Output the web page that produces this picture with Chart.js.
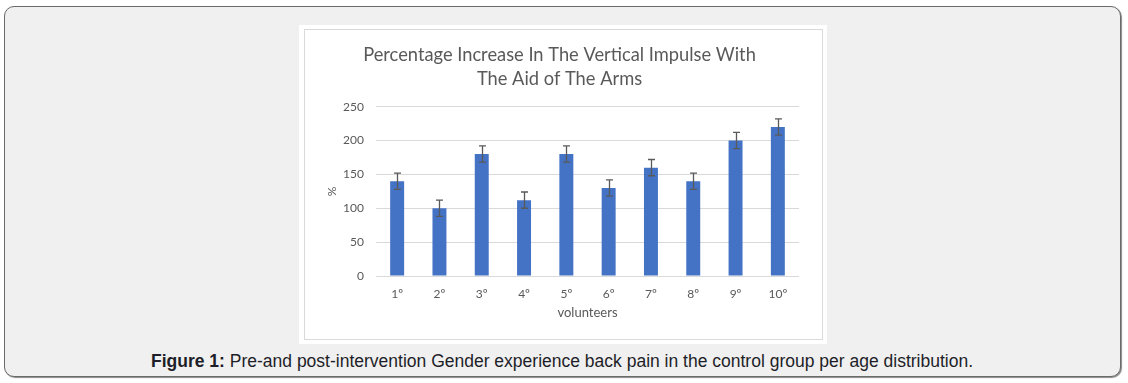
<!DOCTYPE html>
<html>
<head>
<meta charset="utf-8">
<script src="https://cdn.jsdelivr.net/npm/chart.js@4/dist/chart.umd.min.js"></script>
<style>
  html, body { margin: 0; padding: 0; background: #ffffff; width: 1128px; height: 383px; overflow: hidden; }
  #frame { position: absolute; left: 4px; top: 6px; width: 1115px; height: 369px; border: 1px solid #6a6a6a;
           border-radius: 10px; background: #f0f0f0; box-shadow: 1px 1px 1px #8a8a8a; }
  #white { position: absolute; left: 299px; top: 25px; width: 528px; height: 319px; background: #ffffff; }
  #box { position: absolute; left: 304px; top: 29px; width: 517px; height: 309px; border: 1px solid #d9d9d9; background: #ffffff; }
  #wrap { position: absolute; left: 305px; top: 30px; width: 517px; height: 309px; }
  #caption { position: absolute; left: 0; width: 1124px; top: 351px; line-height: 20px; text-align: center;
             font-family: "Liberation Sans", Arial, sans-serif; font-size: 17.5px; color: #1e1e28; }
  #caption b { font-weight: bold; }
</style>
</head>
<body>
<div id="frame"></div>
<div id="white"></div>
<div id="box"></div>
<div id="wrap"><canvas id="c" width="517" height="309"></canvas></div>
<div id="caption"><b>Figure 1:</b> Pre-and post-intervention Gender experience back pain in the control group per age distribution.</div>
<script>
const categories = ["1º", "2º", "3º", "4º", "5º", "6º", "7º", "8º", "9º", "10º"];
const values = [140, 100, 180, 112, 180, 130, 160, 140, 200, 220];
const errors = [12, 12, 12, 12, 12, 12, 12, 12, 12, 12];
const yTicks = [0, 50, 100, 150, 200, 250];
const titleLines = ["Percentage Increase In The Vertical Impulse With", "The Aid of The Arms"];

const errorBars = {
  id: 'errorBars',
  afterDatasetsDraw(chart) {
    const ctx = chart.ctx;
    const meta = chart.getDatasetMeta(0);
    const ys = chart.scales.y;
    ctx.save();
    ctx.strokeStyle = '#595959';
    ctx.lineWidth = 1.3;
    meta.data.forEach((bar, i) => {
      const x = Math.round(bar.x) + 0.5;
      const top = ys.getPixelForValue(values[i] + errors[i]);
      const bot = ys.getPixelForValue(values[i] - errors[i]);
      ctx.beginPath();
      ctx.moveTo(x, top); ctx.lineTo(x, bot);
      ctx.moveTo(x - 3.5, top); ctx.lineTo(x + 3.5, top);
      ctx.moveTo(x - 3.5, bot); ctx.lineTo(x + 3.5, bot);
      ctx.stroke();
    });
    ctx.restore();
  }
};

new Chart(document.getElementById('c'), {
  type: 'bar',
  data: {
    labels: categories,
    datasets: [{
      data: values,
      backgroundColor: '#4472C4',
      borderWidth: 0,
      barPercentage: 0.33,
      categoryPercentage: 1.0
    }]
  },
  options: {
    responsive: false,
    animation: false,
    devicePixelRatio: 1,
    layout: { padding: { left: 15, right: 23, top: 0, bottom: 0 } },
    plugins: {
      legend: { display: false },
      tooltip: { enabled: false },
      title: {
        display: true,
        text: titleLines,
        color: '#595959',
        font: { family: 'Lato', size: 18.3, weight: 'normal', lineHeight: 1.33 },
        padding: { top: 13, bottom: 15 }
      }
    },
    scales: {
      x: {
        grid: { display: false, drawTicks: false },
        border: { display: false },
        ticks: { color: '#595959', font: { family: 'Lato', size: 12 }, padding: 11 },
        title: { display: true, text: 'volunteers', color: '#595959', font: { family: 'Lato', size: 13 }, padding: { top: 4, bottom: 18 } },
        afterFit(s) { s.height = 63; }
      },
      y: {
        min: 0, max: 250,
        afterBuildTicks(s) { s.ticks = yTicks.map(v => ({ value: v })); },
        grid: { color: '#d9d9d9', lineWidth: 1, drawTicks: false },
        border: { display: false },
        ticks: { color: '#595959', font: { family: 'Lato', size: 12 }, padding: 12 },
        title: { display: true, text: '%', color: '#595959', font: { family: 'Lato', size: 12 }, padding: { top: 5, bottom: 0 } },
        afterFit(s) { s.width = 56; }
      }
    }
  },
  plugins: [errorBars]
});
</script>
</body>
</html>
